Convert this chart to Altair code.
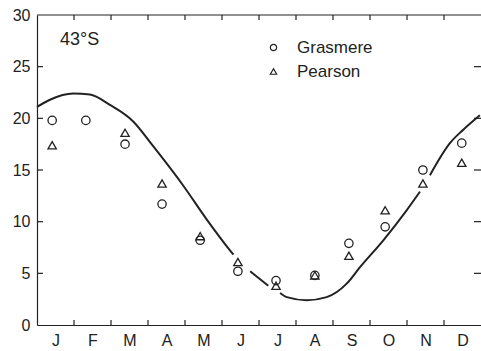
import json
import altair as alt
import pandas as pd

# Month letters along the x axis (x runs 0..12, one unit per month)
months = ["J", "F", "M", "A", "M", "J", "J", "A", "S", "O", "N", "D"]

# Observed monthly values at the two sites
obs_pos = [0.41, 1.32, 2.38, 3.38, 4.41, 5.43, 6.46, 7.51, 8.43, 9.41, 10.43, 11.48]
grasmere = [19.8, 19.8, 17.5, 11.7, 8.2, 5.2, 4.3, 4.8, 7.9, 9.5, 15.0, 17.6]
pearson = [17.4, None, 18.6, 13.7, 8.6, 6.1, 3.8, 4.8, 6.7, 11.1, 13.7, 15.7]

# Model curve, drawn in pieces that break around the markers
curve_seg = [1] * 11 + [2] * 2 + [3] * 9 + [4] * 4
curve_pos = [0.00, 0.35, 0.98, 1.43, 1.97, 2.60, 3.14, 3.95, 4.59, 5.22, 5.31,
             5.76, 6.25,
             6.57, 6.75, 7.29, 7.83, 8.37, 8.73, 9.36, 9.99, 10.35,
             10.62, 11.16, 11.52, 11.97]
curve_val = [21.1, 21.8, 22.4, 22.3, 21.3, 19.7, 17.3, 13.5, 10.2, 7.2, 6.8,
             5.2, 3.8,
             3.1, 2.7, 2.4, 2.7, 4.0, 5.6, 8.2, 11.1, 12.9,
             14.5, 17.6, 18.9, 20.3]

# Tick positions: month boundaries on x, every 5 units on y
x_ticks = list(range(1, 12))
y_label_vals = list(range(0, 31, 5))
y_ticks = list(range(5, 30, 5))

# Latitude annotation
note_text = ["43°S"]
note_pos = [0.62]
note_val = [27.1]

FONT = "Liberation Sans"
INK = "#222222"
W, H = 444, 310

obs = pd.DataFrame({
    "pos": obs_pos * 2,
    "val": grasmere + pearson,
    "site": ["Grasmere"] * 12 + ["Pearson"] * 12,
}).dropna()
curve = pd.DataFrame({"seg": curve_seg, "pos": curve_pos, "val": curve_val})
notes = pd.DataFrame({"text": note_text, "pos": note_pos, "val": note_val})
xt = pd.DataFrame({"t": x_ticks})
yt = pd.DataFrame({"t": y_ticks})
one = pd.DataFrame({"a": [0]})

x_scale = alt.Scale(domain=[0, 12], nice=False, zero=False)
y_scale = alt.Scale(domain=[0, 30], nice=False)

month_expr = json.dumps(months) + "[floor(datum.value)]"
common = dict(grid=False, title=None, ticks=False, tickSize=0, domain=True,
              domainColor=INK, domainWidth=1.2, labelFont=FONT, labelColor=INK,
              labelFontSize=16, labelPadding=7)

x_axis = alt.Axis(orient="bottom", values=[i + 0.5 for i in range(12)],
                  labelExpr=month_expr, **common)
y_axis = alt.Axis(orient="left", values=y_label_vals, **common)

line = alt.Chart(curve).mark_line(color=INK, strokeWidth=2, interpolate="monotone").encode(
    x=alt.X("pos:Q", scale=x_scale, axis=x_axis),
    y=alt.Y("val:Q", scale=y_scale, axis=y_axis),
    detail="seg:N",
)

points = alt.Chart(obs).mark_point(filled=False, stroke=INK, strokeWidth=1.3,
                                   size=70, opacity=1).encode(
    x=alt.X("pos:Q", scale=x_scale),
    y=alt.Y("val:Q", scale=y_scale),
    shape=alt.Shape("site:N",
                    scale=alt.Scale(domain=["Grasmere", "Pearson"],
                                    range=["circle", "triangle-up"]),
                    legend=alt.Legend(orient="none", legendX=228, legendY=24, title=None,
                                      padding=0, symbolSize=40, symbolStrokeWidth=1.2,
                                      symbolStrokeColor=INK, symbolFillColor="white",
                                      labelFont=FONT, labelFontSize=17, labelColor=INK,
                                      labelOffset=15, rowPadding=6)),
)

note = alt.Chart(notes).mark_text(font=FONT, fontSize=18, color=INK, align="left",
                                  baseline="alphabetic").encode(
    x=alt.X("pos:Q", scale=x_scale),
    y=alt.Y("val:Q", scale=y_scale),
    text="text:N",
)

# Frame line along the top (a thin filled bar) and short inward ticks on all sides
top_line = alt.Chart(one).mark_rect(color=INK, opacity=1).encode(
    x=alt.value(0), x2=alt.value(W), y=alt.value(-0.6), y2=alt.value(0.6))
ticks_bottom = alt.Chart(xt).mark_tick(color=INK, orient="vertical", size=5,
                                       thickness=1.2, opacity=1).encode(
    x=alt.X("t:Q", scale=x_scale), y=alt.value(H - 2.5))
ticks_top = alt.Chart(xt).mark_tick(color=INK, orient="vertical", size=5,
                                    thickness=1.2, opacity=1).encode(
    x=alt.X("t:Q", scale=x_scale), y=alt.value(2.5))
ticks_left = alt.Chart(yt).mark_tick(color=INK, orient="horizontal", size=6,
                                     thickness=1.2, opacity=1).encode(
    y=alt.Y("t:Q", scale=y_scale), x=alt.value(3))
ticks_right = alt.Chart(yt).mark_tick(color=INK, orient="horizontal", size=7,
                                      thickness=1.2, opacity=1).encode(
    y=alt.Y("t:Q", scale=y_scale), x=alt.value(W - 3.5))

chart = alt.layer(
    line, points, note, top_line, ticks_bottom, ticks_top, ticks_left, ticks_right
).properties(
    width=W, height=H,
    autosize=alt.AutoSizeParams(type="none"),
    padding={"left": 37, "top": 15, "right": 0, "bottom": 26},
).configure_view(stroke="transparent")

chart.save("out.html", embed_options={"renderer": "svg", "actions": False})
